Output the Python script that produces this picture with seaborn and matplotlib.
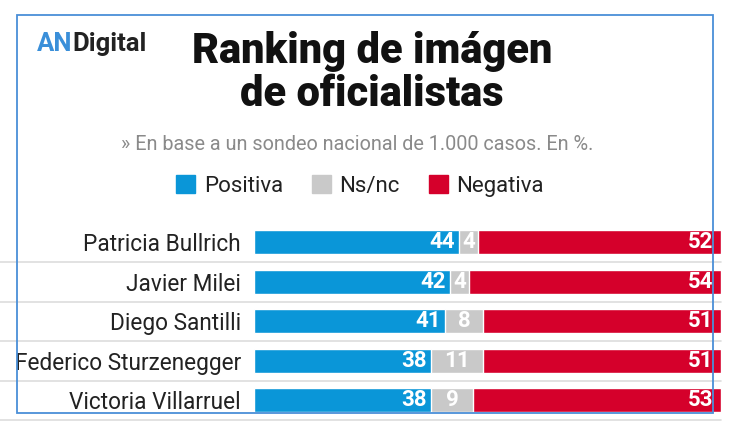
import matplotlib
matplotlib.use("Agg")
import matplotlib.pyplot as plt
import matplotlib.patches as mpatches
import seaborn as sns
import pandas as pd

# datos
nombres = ["Patricia Bullrich", "Javier Milei", "Diego Santilli",
           "Federico Sturzenegger", "Victoria Villarruel"]
positiva = [44, 42, 41, 38, 38]
nsnc = [4, 4, 8, 11, 9]
negativa = [52, 54, 51, 51, 53]

c_pos = "#0a96d8"
c_ns = "#c9c9c9"
c_neg = "#d5002b"

sns.set_style("white")
plt.rcParams['font.family'] = ['Roboto', 'DejaVu Sans']

df = pd.DataFrame({"nombre": nombres, "pos": positiva, "ns": nsnc, "neg": negativa})
df["c1"] = df["pos"]
df["c2"] = df["pos"] + df["ns"]
df["c3"] = df["c2"] + df["neg"]

W, H = 730, 426
fig = plt.figure(figsize=(W / 100, H / 100), dpi=100)
ax = fig.add_axes([254 / W, 1 - 420 / H, 467 / W, 197.5 / H])

# barras apiladas: se dibujan las sumas acumuladas de mayor a menor
sns.barplot(data=df, x="c3", y="nombre", color=c_neg, width=0.61, ax=ax, saturation=1, orient="h")
sns.barplot(data=df, x="c2", y="nombre", color=c_ns, width=0.61, ax=ax, saturation=1, orient="h")
sns.barplot(data=df, x="c1", y="nombre", color=c_pos, width=0.61, ax=ax, saturation=1, orient="h")

ax.set_xlim(0, 100)
ax.set_ylim(4.5, -0.5)
ax.set_xlabel("")
ax.set_ylabel("")
ax.set_xticks([])
sns.despine(ax=ax, left=True, bottom=True)
ax.tick_params(axis="y", length=0, pad=9.5, labelsize=16.3, labelcolor="#222222")

# separadores
for i in range(len(nombres)):
    ax.axhline(i + 0.5, xmin=-254 / 467, xmax=1, color="#dddddd", lw=1.2, clip_on=False, zorder=0)

# etiquetas
for i, r in df.iterrows():
    kw = dict(color="white", fontsize=16, fontweight="bold", va="center")
    ax.text(r["c1"] - 1.0, i, str(r["pos"]), ha="right", **kw)
    ax.text((r["c1"] + r["c2"]) / 2, i, str(r["ns"]), ha="center", **kw)
    ax.text(r["c3"] - 1.7, i, str(r["neg"]), ha="right", **kw)

# titulo y subtitulo
fig.text(372 / W, 1 - 52 / H, "Ranking de imágen", ha="center", va="center",
         fontsize=30, fontweight="heavy", color="#111111")
fig.text(372 / W, 1 - 95 / H, "de oficialistas", ha="center", va="center",
         fontsize=30, fontweight="heavy", color="#111111")
fig.text(357 / W, 1 - 145 / H, "» En base a un sondeo nacional de 1.000 casos. En %.",
         ha="center", va="center", fontsize=14.3, color="#8a8a8a")

# logo
t1 = fig.text(37 / W, 1 - 44 / H, "AN", ha="left", va="center", fontsize=18.5,
              fontweight="bold", color="#3a8fd9")
fig.canvas.draw()
bb = t1.get_window_extent()
fig.text(bb.x1 / W, 1 - 44 / H, "Digital", ha="left", va="center", fontsize=18.5,
         fontweight="bold", color="#222222")

# leyenda
handles = [mpatches.Patch(color=c_pos, label="Positiva"),
           mpatches.Patch(color=c_ns, label="Ns/nc"),
           mpatches.Patch(color=c_neg, label="Negativa")]
fig.legend(handles=handles, loc="center", bbox_to_anchor=(360 / W, 1 - 186 / H),
           ncol=3, frameon=False, fontsize=16, handlelength=0.85, handleheight=0.85,
           handletextpad=0.4, columnspacing=1.3, labelcolor="#222222")

# marco azul
fig.add_artist(mpatches.Rectangle((17 / W, 1 - 413 / H), 696 / W, 398 / H,
                                  transform=fig.transFigure, fill=False,
                                  edgecolor="#4a8fd8", lw=1.3, zorder=10))

fig.savefig("out.png", dpi=100)
